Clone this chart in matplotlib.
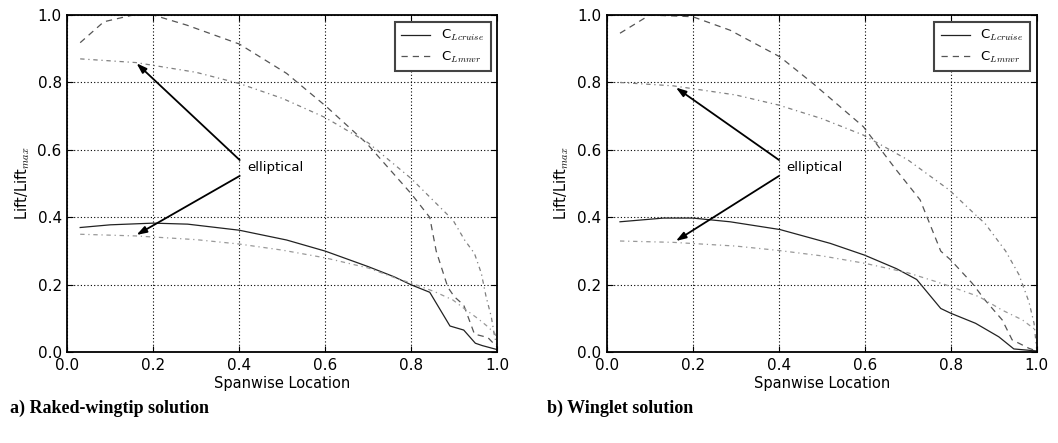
import matplotlib
matplotlib.use("Agg")
import matplotlib.pyplot as plt

plt.rcParams['mathtext.fontset'] = 'cm'
plt.rcParams['font.family'] = 'DejaVu Sans'

# ---------------- data: panel a (raked wingtip) ----------------
a_cruise_x = [0.03, 0.10, 0.20, 0.28, 0.40, 0.51, 0.60, 0.70, 0.76, 0.80, 0.843, 0.89, 0.922, 0.949, 0.965, 1.0]
a_cruise_y = [0.370, 0.378, 0.383, 0.380, 0.362, 0.333, 0.300, 0.254, 0.224, 0.200, 0.178, 0.078, 0.066, 0.027, 0.020, 0.008]

a_mnvr_x = [0.03, 0.085, 0.153, 0.20, 0.278, 0.40, 0.51, 0.603, 0.696, 0.80, 0.843, 0.858, 0.885, 0.90, 0.922, 0.947, 0.978, 1.0]
a_mnvr_y = [0.918, 0.980, 1.000, 1.000, 0.970, 0.914, 0.827, 0.728, 0.620, 0.470, 0.400, 0.300, 0.193, 0.165, 0.140, 0.054, 0.044, 0.015]

a_ell_mnvr_x = [0.03, 0.16, 0.30, 0.40, 0.50, 0.60, 0.70, 0.80, 0.897, 0.924, 0.947, 0.963, 0.974, 0.986, 0.994, 1.0]
a_ell_mnvr_y = [0.870, 0.859, 0.830, 0.797, 0.753, 0.696, 0.621, 0.515, 0.392, 0.333, 0.293, 0.234, 0.165, 0.106, 0.046, 0.015]

a_ell_cruise_x = [0.03, 0.16, 0.30, 0.40, 0.50, 0.60, 0.70, 0.76, 0.80, 0.854, 0.897, 0.928, 0.955, 0.978, 0.994, 1.0]
a_ell_cruise_y = [0.350, 0.345, 0.334, 0.321, 0.303, 0.280, 0.250, 0.222, 0.205, 0.180, 0.155, 0.125, 0.100, 0.076, 0.056, 0.040]

# ---------------- data: panel b (winglet) ----------------
b_cruise_x = [0.031, 0.132, 0.20, 0.287, 0.403, 0.52, 0.60, 0.674, 0.721, 0.777, 0.80, 0.858, 0.912, 0.947, 1.0]
b_cruise_y = [0.387, 0.398, 0.398, 0.387, 0.364, 0.323, 0.288, 0.248, 0.216, 0.130, 0.116, 0.086, 0.046, 0.010, 0.004]

b_mnvr_x = [0.031, 0.10, 0.20, 0.287, 0.403, 0.48, 0.597, 0.674, 0.729, 0.748, 0.777, 0.80, 0.85, 0.88, 0.92, 0.943, 0.982, 1.0]
b_mnvr_y = [0.946, 1.000, 0.995, 0.955, 0.876, 0.797, 0.669, 0.540, 0.452, 0.392, 0.300, 0.274, 0.205, 0.155, 0.096, 0.037, 0.012, 0.004]

b_ell_mnvr_x = [0.031, 0.155, 0.30, 0.40, 0.50, 0.597, 0.70, 0.797, 0.86, 0.88, 0.928, 0.959, 0.982, 0.994, 1.0]
b_ell_mnvr_y = [0.800, 0.790, 0.763, 0.733, 0.693, 0.644, 0.571, 0.481, 0.405, 0.382, 0.300, 0.230, 0.150, 0.086, 0.010]

b_ell_cruise_x = [0.031, 0.155, 0.30, 0.40, 0.50, 0.60, 0.70, 0.765, 0.80, 0.866, 0.92, 0.967, 0.998]
b_ell_cruise_y = [0.330, 0.326, 0.315, 0.302, 0.286, 0.264, 0.236, 0.210, 0.195, 0.165, 0.125, 0.096, 0.066]

# annotation points (tips of arrows, text position)
a_tips = [(0.161, 0.857), (0.161, 0.348)]
b_tips = [(0.161, 0.785), (0.161, 0.330)]
arrow_starts = [(0.401, 0.570), (0.401, 0.523)]
text_pos = (0.418, 0.547)

xticks = [0.0, 0.2, 0.4, 0.6, 0.8, 1.0]
yticks = [0.0, 0.2, 0.4, 0.6, 0.8, 1.0]
captions = ["a) Raked-wingtip solution", "b) Winglet solution"]

fig = plt.figure(figsize=(10.58, 4.43), dpi=100)
ax_a = fig.add_axes([0.0636, 0.2047, 0.4064, 0.7614])
ax_b = fig.add_axes([0.5734, 0.2047, 0.4064, 0.7614])

dashdot = (0, (3.5, 3, 1, 3))
dashed = (0, (5, 4))

panels = [
    (ax_a, a_cruise_x, a_cruise_y, a_mnvr_x, a_mnvr_y, a_ell_mnvr_x, a_ell_mnvr_y, a_ell_cruise_x, a_ell_cruise_y, a_tips),
    (ax_b, b_cruise_x, b_cruise_y, b_mnvr_x, b_mnvr_y, b_ell_mnvr_x, b_ell_mnvr_y, b_ell_cruise_x, b_ell_cruise_y, b_tips),
]

for (ax, cx, cy, mx, my, emx, emy, ecx, ecy, tips) in panels:
    ax.plot(cx, cy, color='#222222', lw=0.9, ls='-', label=r'C$_{Lcruise}$')
    ax.plot(mx, my, color='#555555', lw=0.9, ls=dashed, label=r'C$_{Lmnvr}$')
    ax.plot(emx, emy, color='#808080', lw=0.9, ls=dashdot)
    ax.plot(ecx, ecy, color='#999999', lw=0.9, ls=dashdot)
    for tip, start in zip(tips, arrow_starts):
        ax.annotate('', xy=tip, xytext=start,
                    arrowprops=dict(arrowstyle='-|>,head_length=0.6,head_width=0.2',
                                    color='black', lw=1.3, shrinkA=0, shrinkB=0))
    ax.text(text_pos[0], text_pos[1], 'elliptical', fontsize=9.5, va='center', ha='left')
    ax.set_xlim(0, 1)
    ax.set_ylim(0, 1)
    ax.set_xticks(xticks)
    ax.set_yticks(yticks)
    ax.set_xticklabels([f"{t:.1f}" for t in xticks], fontsize=11)
    ax.set_yticklabels([f"{t:.1f}" for t in yticks], fontsize=11)
    ax.tick_params(direction='in', top=True, right=True, length=4)
    ax.tick_params(axis='x', pad=4)
    ax.tick_params(axis='y', pad=4)
    ax.grid(True, color='black', ls=(0, (1, 2)), lw=0.8)
    for s in ax.spines.values():
        s.set_linewidth(1.3)
    ax.set_xlabel('Spanwise Location', fontsize=10.5, labelpad=2)
    ax.set_ylabel(r'Lift/Lift$_{max}$', fontsize=10.5, labelpad=4)
    leg = ax.legend(loc='upper right', fontsize=9.5, handlelength=2.2, borderpad=0.5,
                    labelspacing=0.45, fancybox=False, framealpha=1)
    leg.get_frame().set_edgecolor('#444444')
    leg.get_frame().set_linewidth(1.5)

fig.text(10 / 1058, 1 - 408 / 443, captions[0], fontsize=13, fontweight='bold',
         family='Liberation Serif', va='center', ha='left')
fig.text(547 / 1058, 1 - 408 / 443, captions[1], fontsize=13, fontweight='bold',
         family='Liberation Serif', va='center', ha='left')

fig.savefig('out.png', dpi=100)
